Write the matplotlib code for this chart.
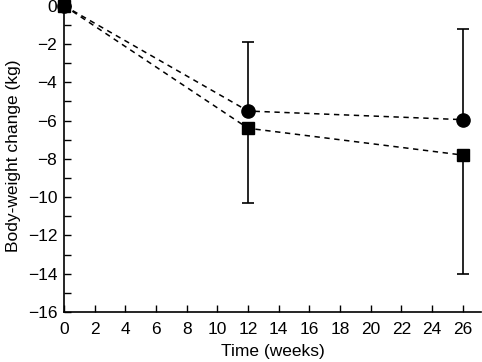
import numpy as np
import matplotlib.pyplot as plt
from matplotlib.ticker import MultipleLocator

plt.rcParams['font.family'] = ['Liberation Sans', 'DejaVu Sans']

weeks = [0, 12, 26]
circle = [0, -5.5, -5.95]
square = [0, -6.4, -7.8]
circle_up = [0, 3.6, 4.75]
square_down = [0, 3.9, 6.2]

fig = plt.figure(figsize=(4.82, 3.62), dpi=100)
ax = fig.add_axes([0.133, 0.138, 0.865, 0.862])

ax.errorbar(weeks[1:], circle[1:], yerr=[[0, 0], circle_up[1:]], fmt='none',
            ecolor='black', elinewidth=1.2, capsize=4, capthick=1.2)
ax.errorbar(weeks[1:], square[1:], yerr=[square_down[1:], [0, 0]], fmt='none',
            ecolor='black', elinewidth=1.2, capsize=4, capthick=1.2)
ax.plot(weeks, circle, color='black', ls=(0, (3.5, 3)), lw=1.1,
        marker='o', ms=9.5, zorder=3, clip_on=False)
ax.plot(weeks, square, color='black', ls=(0, (3.5, 3)), lw=1.1,
        marker='s', ms=8.5, zorder=4, clip_on=False)

ax.set_xlim(0, 27.2)
ax.set_ylim(-16, 0.3)
ax.xaxis.set_major_locator(MultipleLocator(2))
ax.yaxis.set_minor_locator(MultipleLocator(1))
ax.set_yticks(np.arange(-16, 1, 2))
ax.set_yticklabels([str(v).replace('-', '\u2212') for v in range(-16, 1, 2)])
ax.tick_params(direction='in', length=5, width=1, labelsize=12.5, pad=5)
ax.tick_params(axis='x', pad=7)
ax.tick_params(which='minor', direction='in', length=5, width=1)
for s in ['top', 'right']:
    ax.spines[s].set_visible(False)
for s in ['left', 'bottom']:
    ax.spines[s].set_linewidth(1.2)
ax.set_xlabel('Time (weeks)', fontsize=12.5, labelpad=5)
ax.set_ylabel('Body-weight change (kg)', fontsize=12.5, labelpad=5)

fig.savefig('out.png', dpi=100)
